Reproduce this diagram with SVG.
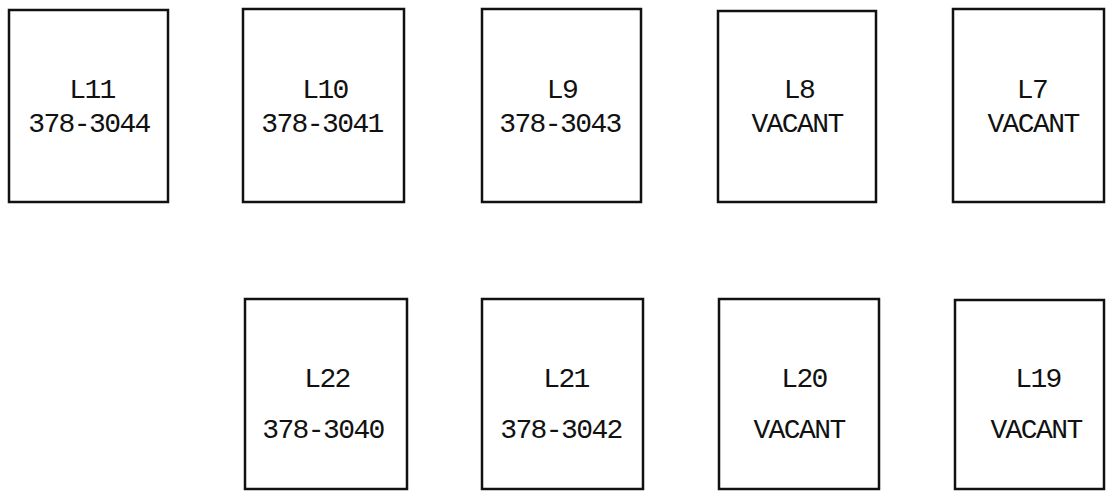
<svg xmlns="http://www.w3.org/2000/svg" width="1106" height="491" viewBox="0 0 1106 491">
<style>
.box{fill:#fff;stroke:#111;stroke-width:2.5}
.t{font-family:"Liberation Mono","DejaVu Sans Mono",monospace;font-size:28px;letter-spacing:-1.6px;fill:#111;text-anchor:middle}
</style>
<rect width="1106" height="491" fill="#fff"/>
<g id="L11"><rect class="box" x="9" y="10" width="159" height="192"/><text class="t" x="92" y="98">L11</text><text class="t" x="89" y="132">378-3044</text></g>
<g id="L10"><rect class="box" x="243" y="9" width="161" height="193"/><text class="t" x="325" y="98">L10</text><text class="t" x="322" y="132">378-3041</text></g>
<g id="L9"><rect class="box" x="482" y="9" width="159" height="193"/><text class="t" x="562" y="98">L9</text><text class="t" x="560" y="132">378-3043</text></g>
<g id="L8"><rect class="box" x="718" y="11" width="158" height="191"/><text class="t" x="799" y="98">L8</text><text class="t" x="797" y="132">VACANT</text></g>
<g id="L7"><rect class="box" x="953" y="9" width="151" height="193"/><text class="t" x="1032" y="98">L7</text><text class="t" x="1033" y="132">VACANT</text></g>
<g id="L22"><rect class="box" x="245" y="299" width="162" height="190"/><text class="t" x="327" y="387">L22</text><text class="t" x="323" y="438">378-3040</text></g>
<g id="L21"><rect class="box" x="482" y="299" width="161" height="190"/><text class="t" x="566" y="387">L21</text><text class="t" x="561" y="438">378-3042</text></g>
<g id="L20"><rect class="box" x="719" y="299" width="160" height="190"/><text class="t" x="804" y="387">L20</text><text class="t" x="799" y="438">VACANT</text></g>
<g id="L19"><rect class="box" x="955" y="300" width="149" height="189"/><text class="t" x="1038" y="387">L19</text><text class="t" x="1036" y="438">VACANT</text></g>
<g id="connectors"></g>
</svg>
